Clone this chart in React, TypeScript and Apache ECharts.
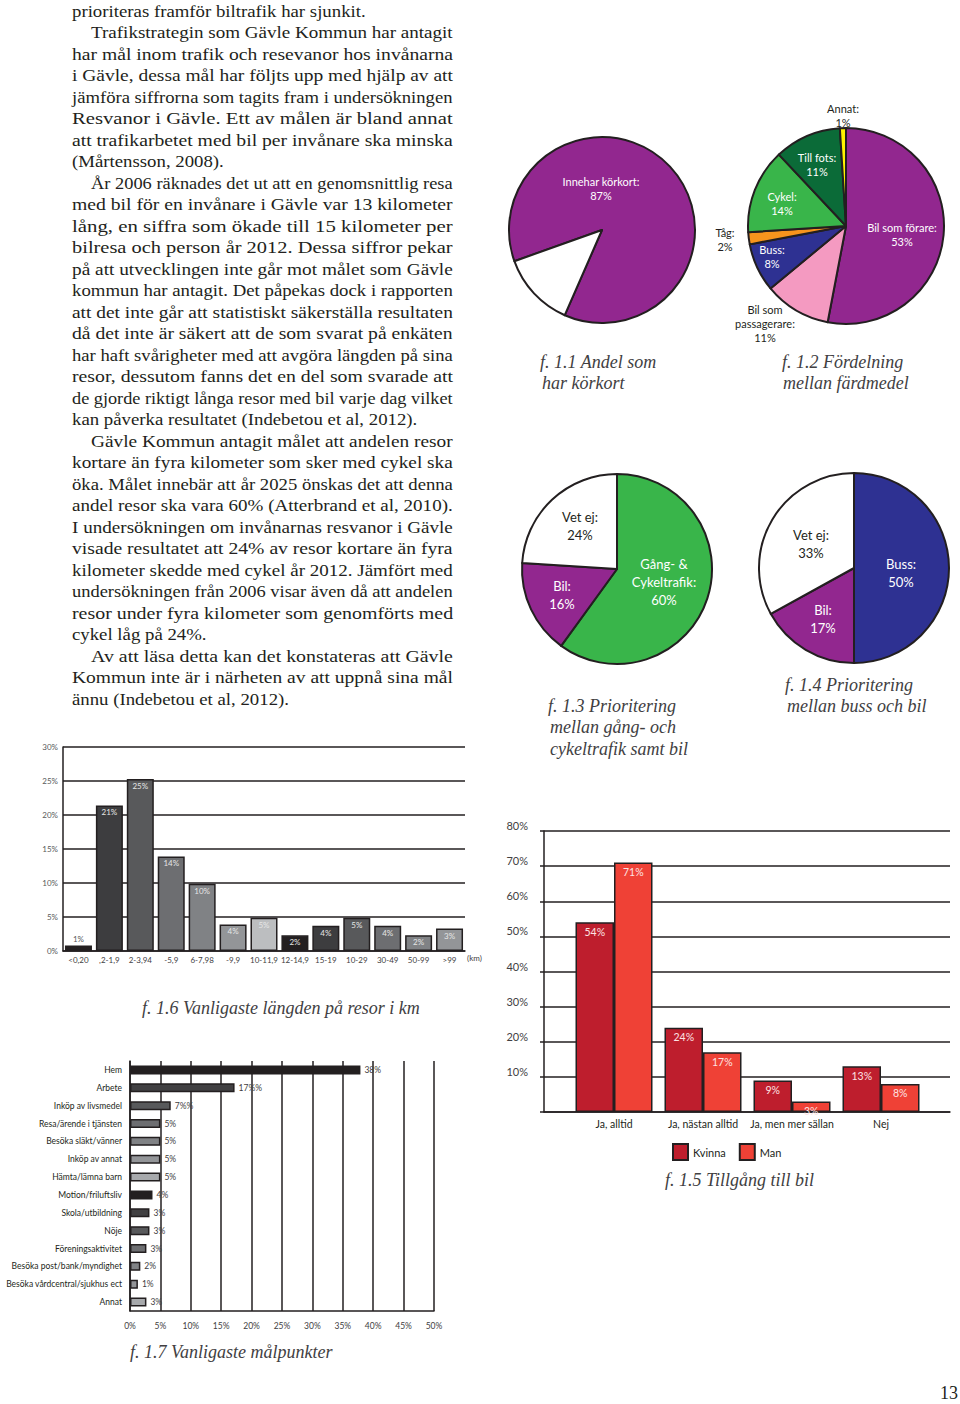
import React, { useEffect, useRef } from "react";
import * as echarts from "echarts";

// ---------- DATA ----------
const licenseCats = ["Innehar körkort", "Har ej körkort"];
const licenseVals = [87, 13];

const modeCats = ["Bil som förare", "Bil som passagerare", "Buss", "Tåg", "Cykel", "Till fots", "Annat"];
const modeVals = [53, 11, 8, 2, 14, 11, 1];

const walkCats = ["Gång- & Cykeltrafik", "Bil", "Vet ej"];
const walkVals = [60, 16, 24];

const busCats = ["Buss", "Bil", "Vet ej"];
const busVals = [50, 17, 33];

const distCats = ["<0,20", ",2-1,9", "2-3,94", "-5,9", "6-7,98", "-9,9", "10-11,9", "12-14,9", "15-19", "10-29", "30-49", "50-99", ">99"];
const distVals = [0.8, 21.4, 25.3, 13.9, 9.9, 3.9, 4.9, 2.3, 3.7, 4.9, 3.7, 2.3, 3.3];

const accessCats = ["Ja, alltid", "Ja, nästan alltid", "Ja, men mer sällan", "Nej"];
const accessSeries = ["Kvinna", "Man"];
const accessKvinna = [54, 24, 9, 13];
const accessMan = [71, 17, 3, 8];

const destCats = [
  "Hem", "Arbete", "Inköp av livsmedel", "Resa/ärende i tjänsten", "Besöka släkt/vänner",
  "Inköp av annat", "Hämta/lämna barn", "Motion/friluftsliv", "Skola/utbildning", "Nöje",
  "Föreningsaktivitet", "Besöka post/bank/myndighet", "Besöka vårdcentral/sjukhus ect", "Annat",
];
const destVals = [37.9, 17.2, 6.7, 5, 5, 5, 5, 3.7, 3.2, 3.2, 2.7, 1.7, 1.3, 2.7];
const destLabels = ["38%", "17%%", "7%%", "5%", "5%", "5%", "5%", "4%", "3%", "3%", "3%", "2%", "1%", "3%"];

const bodyParagraphs = [
  ["prioriteras framför biltrafik har sjunkit."],
  [
    "Trafikstrategin som Gävle Kommun har antagit",
    "har mål inom trafik och resevanor hos invånarna",
    "i Gävle, dessa mål har följts upp med hjälp av att",
    "jämföra siffrorna som tagits fram i undersökningen",
    "Resvanor i Gävle. Ett av målen är bland annat",
    "att trafikarbetet med bil per invånare ska minska",
    "(Mårtensson, 2008).",
  ],
  [
    "År 2006 räknades det ut att en genomsnittlig resa",
    "med bil för en invånare i Gävle var 13 kilometer",
    "lång, en siffra som ökade till 15 kilometer per",
    "bilresa och person år 2012. Dessa siffror pekar",
    "på att utvecklingen inte går mot målet som Gävle",
    "kommun har antagit. Det påpekas dock i rapporten",
    "att det inte går att statistiskt säkerställa resultaten",
    "då det inte är säkert att de som svarat på enkäten",
    "har haft svårigheter med att avgöra längden på sina",
    "resor, dessutom fanns det en del som svarade att",
    "de gjorde riktigt långa resor med bil varje dag vilket",
    "kan påverka resultatet (Indebetou et al, 2012).",
  ],
  [
    "Gävle Kommun antagit målet att andelen resor",
    "kortare än fyra kilometer som sker med cykel ska",
    "öka. Målet innebär att år 2025 önskas det att denna",
    "andel resor ska vara 60% (Atterbrand et al, 2010).",
    "I undersökningen om invånarnas resvanor i Gävle",
    "visade resultatet att 24% av resor kortare än fyra",
    "kilometer skedde med cykel år 2012. Jämfört med",
    "undersökningen från 2006 visar även då att andelen",
    "resor under fyra kilometer som genomförts med",
    "cykel låg på 24%.",
  ],
  [
    "Av att läsa detta kan det konstateras att Gävle",
    "Kommun inte är i närheten av att uppnå sina mål",
    "ännu (Indebetou et al, 2012).",
  ],
];

const captions: [string, number, number][] = [
  ["f. 1.1 Andel som", 540, 362],
  ["har körkort", 542, 383],
  ["f. 1.2 Fördelning", 782, 362],
  ["mellan färdmedel", 783, 383],
  ["f. 1.3 Prioritering", 548, 706],
  ["mellan gång- och", 550, 727],
  ["cykeltrafik samt bil", 550, 749],
  ["f. 1.4 Prioritering", 785, 685],
  ["mellan buss och bil", 787, 706],
  ["f. 1.6 Vanligaste längden på resor i km", 142, 1008],
  ["f. 1.5 Tillgång till bil", 665, 1180],
  ["f. 1.7 Vanligaste målpunkter", 130, 1352],
];

// ---------- STYLE ----------
const INK = "#231f20";
const SANS = "Lato";
const SERIF = "Liberation Serif";
const PURPLE = "#92278f";
const GREEN = "#39b54a";
const BLUE = "#2e3192";
const WHITE = "#ffffff";

const licenseColors = [PURPLE, WHITE];
const modeColors = [PURPLE, "#f49ac1", BLUE, "#f7941d", GREEN, "#0b6b38", "#fff200"];
const walkColors = [GREEN, PURPLE, WHITE];
const busColors = [BLUE, PURPLE, WHITE];
const distColors = ["#231f20", "#3d3d3f", "#58595b", "#6d6e71", "#808285", "#939598", "#bcbec0", "#231f20", "#3d3d3f", "#58595b", "#6d6e71", "#808285", "#939598"];
const destColors = ["#231f20", "#414042", "#58595b", "#6d6e71", "#808285", "#939598", "#a7a9ac", "#231f20", "#414042", "#58595b", "#6d6e71", "#808285", "#939598", "#a7a9ac"];

const labelBreaks: Record<string, string> = {
  "Bil som passagerare": "Bil som\npassagerare",
  "Gång- & Cykeltrafik": "Gång- &\nCykeltrafik",
};

function pieSeries(
  cats: string[], vals: number[], colors: string[], labelColors: (string | null)[],
  labelPos: ([number, number] | null)[], center: [number, number], r: number,
  startAngle: number, fontSize: number, lineHeight: number
) {
  return {
    type: "pie",
    center,
    radius: r,
    startAngle,
    clockwise: true,
    avoidLabelOverlap: false,
    emphasis: { disabled: true },
    itemStyle: { borderColor: INK, borderWidth: 2 },
    labelLine: { show: false },
    label: {
      show: true,
      position: "inside",
      fontFamily: SANS,
      fontSize,
      lineHeight,
      formatter: (p: any) => `${labelBreaks[p.name] || p.name}:\n${p.value}%`,
    },
    labelLayout: (p: any) => {
      const pos = labelPos[p.dataIndex];
      if (!pos) return {};
      return { x: pos[0], y: pos[1], align: "center", verticalAlign: "middle" };
    },
    data: cats.map((n, i) => ({
      name: n,
      value: vals[i],
      itemStyle: { color: colors[i] },
      label: labelColors[i] ? { color: labelColors[i] } : { show: false },
    })),
  };
}

function bodyGraphics(): any[] {
  const canvas = document.createElement("canvas");
  const ctx = canvas.getContext("2d")!;
  const fontSize = 17;
  ctx.font = `${fontSize}px "${SERIF}"`;
  const left = 72;
  const right = 453;
  const indent = 19;
  const lastScale = 294 / ctx.measureText(bodyParagraphs[0][0]).width;
  const out: any[] = [];
  let row = 0;
  bodyParagraphs.forEach((para, pi) => {
    para.forEach((line, li) => {
      const x0 = pi > 0 && li === 0 ? left + indent : left;
      const isLast = li === para.length - 1;
      const w = ctx.measureText(line).width;
      const sx = isLast ? lastScale : (right - x0) / w;
      out.push({
        type: "text",
        x: x0,
        y: 11 + row * 21.5,
        scaleX: sx,
        silent: true,
        style: {
          x: 0, y: 0, text: line, fill: INK,
          font: `${fontSize}px "${SERIF}"`,
          textAlign: "left", textVerticalAlign: "middle",
        },
      });
      row++;
    });
  });
  return out;
}

function buildOption(): any {
  const graphics: any[] = [...bodyGraphics()];
  captions.forEach(([t, x, y]) => {
    graphics.push({
      type: "text", x, y, silent: true,
      style: { text: t, fill: "#414042", font: `italic 18px "${SERIF}"`, textAlign: "left", textVerticalAlign: "middle" },
    });
  });
  graphics.push({
    type: "text", x: 467, y: 958, silent: true,
    style: { text: "(km)", fill: "#414042", font: `8px ${SANS}`, textAlign: "left", textVerticalAlign: "middle" },
  });
  graphics.push({
    type: "text", x: 940, y: 1393, silent: true,
    style: { text: "13", fill: INK, font: `18px "${SERIF}"`, textAlign: "left", textVerticalAlign: "middle" },
  });

  const axisLine = { show: true, lineStyle: { color: INK, width: 1.5 } };
  const split = { show: true, lineStyle: { color: INK, width: 1.5 } };

  return {
    animation: false,
    backgroundColor: "#ffffff",
    textStyle: { fontFamily: SANS },
    graphic: graphics,
    legend: {
      data: accessSeries,
      left: 672, top: 1143, padding: 0,
      itemWidth: 15, itemHeight: 16, itemGap: 13,
      icon: "rect",
      textStyle: { fontFamily: SANS, fontSize: 11, color: INK },
      selectedMode: false,
    },
    grid: [
      { left: 63, top: 747, width: 402, height: 204 },
      { left: 544, top: 831, width: 406, height: 281 },
      { left: 569.5, top: 831, width: 356, height: 281 },
      { left: 130, top: 1061, width: 304, height: 250 },
    ],
    xAxis: [
      {
        gridIndex: 0, type: "category", data: distCats,
        axisLine, axisTick: { show: false },
        axisLabel: { interval: 0, fontSize: 8, color: "#414042", margin: 5 },
      },
      {
        gridIndex: 1, type: "category", data: [""],
        axisLine, axisTick: { show: false }, axisLabel: { show: false },
      },
      {
        gridIndex: 2, type: "category", data: accessCats,
        axisLine: { show: false }, axisTick: { show: false },
        axisLabel: { interval: 0, fontSize: 10.5, color: INK, margin: 6 },
      },
      {
        gridIndex: 3, type: "value", min: 0, max: 50, interval: 5,
        axisLine, axisTick: { show: false }, splitLine: split,
        axisLabel: { formatter: "{value}%", fontSize: 8.5, color: "#414042", margin: 10 },
      },
    ],
    yAxis: [
      {
        gridIndex: 0, type: "value", min: 0, max: 30, interval: 5,
        axisLine, axisTick: { show: false }, splitLine: split,
        axisLabel: { formatter: "{value}%", fontSize: 8, color: "#58595b", margin: 5 },
      },
      {
        gridIndex: 1, type: "value", min: 0, max: 80, interval: 10,
        axisLine, axisTick: { show: true, length: 4, lineStyle: { color: INK, width: 1.5 } }, splitLine: split,
        axisLabel: {
          formatter: (v: number) => (v === 0 ? "" : `${v}%`),
          fontSize: 11, color: "#414042", margin: 16, verticalAlign: "bottom",
        },
      },
      { gridIndex: 2, type: "value", min: 0, max: 80, show: false },
      {
        gridIndex: 3, type: "category", data: destCats, inverse: true,
        axisLine, axisTick: { show: false },
        axisLabel: { interval: 0, fontSize: 8.5, color: INK, margin: 8 },
      },
    ],
    series: [
      pieSeries(licenseCats, licenseVals, licenseColors, [WHITE, null], [[601, 188], null], [602, 230], 93, 199.6, 11, 14),
      pieSeries(
        modeCats, modeVals, modeColors,
        [WHITE, INK, WHITE, INK, WHITE, WHITE, INK],
        [[902, 234], [765, 323], [772, 256], [725, 239], [782, 203], [817, 164], [843, 115]],
        [846, 226], 98, 90, 11, 14
      ),
      pieSeries(
        walkCats, walkVals, walkColors, [WHITE, WHITE, INK],
        [[664, 582], [562, 595], [580, 526]],
        [617, 569], 95, 90, 13, 18
      ),
      pieSeries(
        busCats, busVals, busColors, [WHITE, WHITE, INK],
        [[901, 573], [823, 619], [811, 544]],
        [854, 568], 95, 90, 13, 18
      ),
      {
        type: "bar", xAxisIndex: 0, yAxisIndex: 0, barWidth: 27,
        emphasis: { disabled: true },
        label: {
          show: true, position: "insideTop", distance: 3, fontSize: 8, color: "#e6e6e6",
          formatter: (p: any) => `${Math.round(p.value)}%`,
        },
        data: distVals.map((v, i) => ({
          value: v,
          itemStyle: { color: distColors[i], borderColor: INK, borderWidth: 1.5 },
          label: i === 0 ? { position: "top", color: "#58595b" } : undefined,
        })),
      },
      {
        name: accessSeries[0], type: "bar", xAxisIndex: 2, yAxisIndex: 2, barWidth: 38.5, barGap: "0%",
        emphasis: { disabled: true },
        itemStyle: { color: "#be1e2d", borderColor: INK, borderWidth: 1.5 },
        label: { show: true, position: "insideTop", distance: 4, fontSize: 10.5, color: "#fde3e3", formatter: "{c}%" },
        data: accessKvinna,
      },
      {
        name: accessSeries[1], type: "bar", xAxisIndex: 2, yAxisIndex: 2, barWidth: 38.5, barGap: "0%",
        emphasis: { disabled: true },
        itemStyle: { color: "#ef4136", borderColor: INK, borderWidth: 1.5 },
        label: { show: true, position: "insideTop", distance: 4, fontSize: 10.5, color: "#fde3e3", formatter: "{c}%" },
        data: accessMan,
      },
      {
        type: "bar", xAxisIndex: 3, yAxisIndex: 3, barWidth: 9,
        emphasis: { disabled: true },
        label: {
          show: true, position: "right", distance: 4, fontSize: 8.5, color: "#414042",
          formatter: (p: any) => destLabels[p.dataIndex],
        },
        data: destVals.map((v, i) => ({
          value: v,
          itemStyle: { color: destColors[i], borderColor: INK, borderWidth: 1.5 },
        })),
      },
    ],
  };
}

export default function App() {
  const ref = useRef<HTMLDivElement>(null);
  useEffect(() => {
    const el = ref.current!;
    const chart = echarts.init(el, null, { renderer: "svg", width: 960, height: 1404 });
    chart.setOption(buildOption());
    return () => chart.dispose();
  }, []);
  return (
    <div
      ref={ref}
      style={{ position: "absolute", left: 0, top: 0, width: 960, height: 1404, background: "#ffffff" }}
    />
  );
}
